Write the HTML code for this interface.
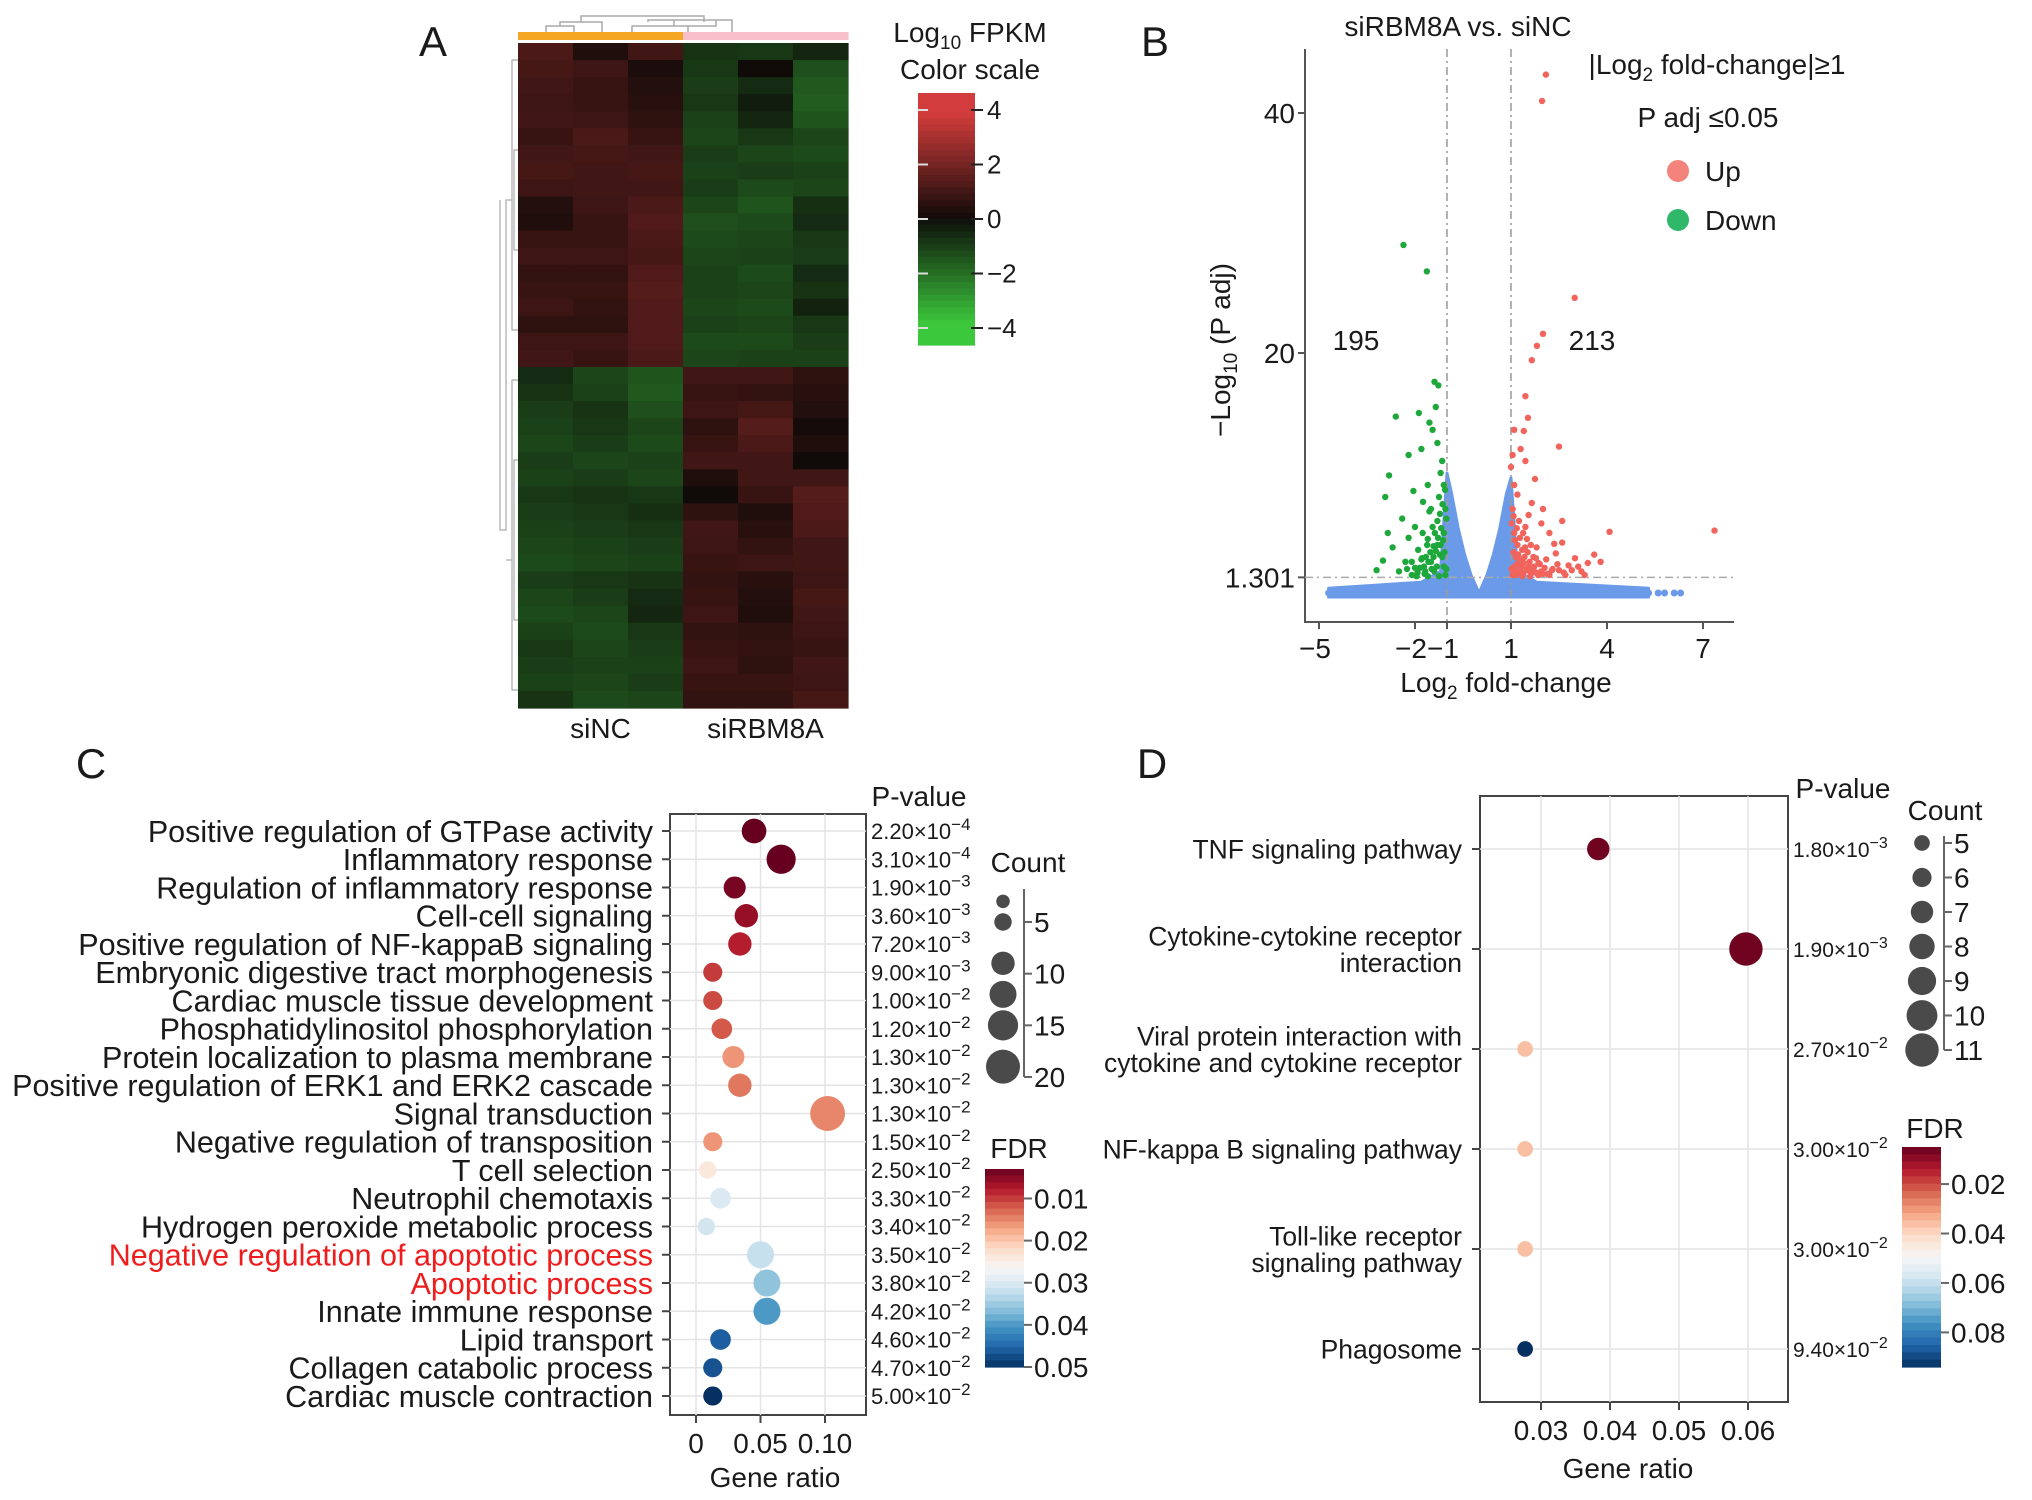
<!DOCTYPE html>
<html><head><meta charset="utf-8"><title>RBM8A figure</title>
<style>
html,body{margin:0;padding:0;background:#fff;}
svg{display:block;font-family:"Liberation Sans",Arial,sans-serif;}
</style></head>
<body>
<svg id="fig" width="2032" height="1500" viewBox="0 0 2032 1500" xmlns="http://www.w3.org/2000/svg">
<rect x="0" y="0" width="2032" height="1500" fill="#fff"/>
</svg>
<script>
// ---------- Panel A data ----------
const heatGroups = ["siNC","siNC","siNC","siRBM8A","siRBM8A","siRBM8A"];
const heatRows = [
[1.2,0.3,1.0,-0.8,-0.9,-0.5],[1.1,0.9,0.2,-0.9,0.0,-1.4],[1.0,0.8,0.4,-1.0,-0.6,-1.6],
[0.9,0.8,0.5,-0.9,-0.3,-1.7],[1.0,0.9,0.6,-1.1,-0.5,-1.5],[0.8,1.2,0.8,-1.2,-0.9,-1.2],
[1.0,1.1,1.0,-1.0,-1.2,-1.3],[1.1,1.0,1.1,-1.1,-1.0,-1.1],[0.9,1.0,1.0,-1.0,-1.3,-1.2],
[0.4,0.9,1.2,-1.2,-1.5,-0.7],[0.3,0.8,1.3,-1.4,-1.3,-0.6],[0.8,0.8,1.2,-1.3,-1.2,-0.9],
[0.9,0.9,1.1,-1.2,-1.1,-1.0],[0.7,0.7,1.3,-1.1,-1.3,-0.6],[0.8,0.8,1.4,-1.1,-1.2,-0.8],
[0.9,0.7,1.3,-1.2,-1.3,-0.4],[0.6,0.6,1.3,-1.1,-1.2,-0.9],[0.9,0.9,1.3,-1.3,-1.3,-1.0],
[1.0,0.8,1.2,-1.2,-1.1,-1.1],
[-0.6,-1.2,-1.5,1.0,1.0,0.6],[-0.8,-1.1,-1.6,0.8,0.7,0.5],[-1.0,-0.8,-1.4,0.9,1.1,0.4],
[-1.1,-0.9,-1.2,0.6,1.4,0.1],[-1.2,-1.0,-1.3,0.8,1.2,0.3],[-1.0,-1.2,-1.1,1.0,1.0,0.0],
[-1.1,-1.0,-1.2,0.3,1.0,1.0],[-0.9,-0.8,-0.9,0.0,0.8,1.4],[-1.0,-0.9,-0.7,0.6,0.3,1.3],
[-1.1,-1.0,-0.9,1.0,0.5,1.2],[-1.2,-1.1,-1.0,0.9,0.7,1.0],[-1.3,-1.2,-1.1,0.8,0.9,1.0],
[-1.0,-0.9,-0.8,0.7,0.5,0.9],[-1.2,-1.0,-0.6,0.8,0.4,1.1],[-1.3,-1.2,-0.5,0.9,0.3,1.0],
[-1.1,-1.3,-0.9,0.7,0.6,0.9],[-0.9,-1.2,-1.0,0.8,0.7,0.8],[-1.0,-1.1,-1.1,0.9,0.6,1.0],
[-1.1,-1.2,-1.0,0.8,0.8,0.9],[-0.8,-1.3,-1.2,0.7,0.7,1.1]
];
const heatTicks = [4,2,0,-2,-4];

// ---------- Panel B data ----------
const upX = [1.05,1.1,1.15,1.2,1.1,1.25,1.05,1.3,1.4,1.35,1.5,1.45,1.2,1.1,1.6,1.7,1.8,1.55,1.65,1.9,2.0,2.1,2.2,1.75,2.3,2.4,2.5,2.6,2.8,3.0,3.2,3.4,3.6,3.8,2.0,2.6,1.45,1.3,1.0,1.15,1.25,1.35,1.6,1.85,1.95,2.2,2.35,2.7,1.4,1.53,1.45,1.65,1.81,2.0,2.99,1.97,2.09,2.5,4.08,7.36,1.1,1.05,1.02,1.08,1.12,1.18,1.22,1.28,1.32,1.38,1.42,1.48,1.52,1.58,1.62,1.68,1.72,1.78,1.02,1.08,1.14,1.2,1.26,1.32,1.38,1.44,1.5,1.56,1.62,1.7,1.78,1.86,1.94,2.05,2.15,2.28,2.45,2.65,2.9,3.1,3.3];
const upY = [1.5,2.2,3,4,5,6,7,1.8,2.5,3.6,4.5,5.5,8.2,9,2,3,3.8,6.5,7.5,2.4,1.6,2.8,5,9.5,2,3.3,1.9,4.2,2.3,2.9,1.8,2.5,3.2,2.6,7,6,11,12,10.5,1.5,2.6,1.4,1.4,1.5,5.8,1.5,4.1,1.5,13.5,14.6,16.4,19.4,20.6,21.6,24.6,41,43.2,12.2,5.1,5.2,13.6,11.5,2.0,3.4,4.4,5.4,3.2,4.6,2.2,5.0,3.0,2.0,3.4,2.6,4.0,1.8,2.2,2.9,5.8,6.4,1.9,2.4,1.7,2.8,1.6,3.8,1.9,2.2,1.6,2.0,1.7,2.5,1.8,2.1,1.6,1.9,2.4,1.7,1.9,2.2,1.5];
const downX = [-1.05,-1.1,-1.15,-1.2,-1.1,-1.3,-1.05,-1.25,-1.1,-1.4,-1.5,-1.35,-1.6,-1.45,-1.2,-1.15,-1.7,-1.8,-1.9,-1.55,-1.75,-2.0,-2.1,-2.2,-1.6,-2.3,-2.5,-2.4,-1.3,-1.45,-1.88,-1.55,-2.6,-1.39,-1.27,-1.63,-2.36,-2.81,-2.93,-3.0,-2.85,-3.2,-2.7,-2.0,-1.25,-1.6,-1.95,-2.2,-1.8,-2.05,-1.35,-1.02,-1.08,-1.12,-1.18,-1.22,-1.28,-1.32,-1.38,-1.42,-1.48,-1.52,-1.58,-1.62,-1.68,-1.72,-1.78,-1.85,-1.92,-2.1,-2.25,-1.02,-1.06,-1.14,-1.22,-1.3,-1.42,-1.5,-1.66,-1.76];
const downY = [1.5,2.2,3,4,5,6,7,8,9,1.8,2.6,3.5,4.5,5.5,10,11,1.6,2.8,3.6,6.8,7.6,2.1,1.5,4.6,9,2.6,1.8,6.2,12.5,13.6,15,14.2,14.7,17.6,17.3,26.8,29,9.8,8,2.7,5,1.9,3.8,5.5,1.4,1.4,1.4,11.5,12,8.5,15.5,2.0,3.4,4.4,5.4,3.2,4.6,2.2,5.0,3.0,2.0,3.4,2.6,4.0,1.8,2.2,2.9,2.1,1.7,2.6,2.0,6.2,8.6,7.4,6.6,4.0,3.9,7.0,3.0,5.0];
const nsEnvX = [-4.7,-1.8,-1.2,-1.0,-0.85,-0.65,-0.45,-0.25,-0.1,0,0.1,0.25,0.45,0.65,0.85,1.0,1.2,1.8,5.3];
const nsEnvY = [0.4,0.9,1.8,10.0,8.2,5.4,3.2,1.5,0.6,0,0.6,1.5,3.2,5.4,8.2,9.6,1.8,0.9,0.4];
const nsTailX = [5.6,5.8,6.1,6.3];
const volXTicks = [-5,-2,-1,1,4,7];
const volYTicks = [40,20,1.301];

// ---------- Panel C data ----------
const goTerms = ["Positive regulation of GTPase activity","Inflammatory response","Regulation of inflammatory response","Cell-cell signaling","Positive regulation of NF-kappaB signaling","Embryonic digestive tract morphogenesis","Cardiac muscle tissue development","Phosphatidylinositol phosphorylation","Protein localization to plasma membrane","Positive regulation of ERK1 and ERK2 cascade","Signal transduction","Negative regulation of transposition","T cell selection","Neutrophil chemotaxis","Hydrogen peroxide metabolic process","Negative regulation of apoptotic process","Apoptotic process","Innate immune response","Lipid transport","Collagen catabolic process","Cardiac muscle contraction"];
const goRatio = [0.045,0.066,0.03,0.039,0.034,0.013,0.013,0.02,0.029,0.034,0.102,0.013,0.009,0.019,0.008,0.05,0.055,0.055,0.019,0.013,0.013];
const goCount = [10,14,8,9,9,6,6,7,8,9,20,6,5,7,5,12,12,12,7,6,6];
const goFDR = [0.003,0.003,0.004,0.006,0.008,0.010,0.011,0.012,0.016,0.014,0.015,0.016,0.024,0.030,0.031,0.032,0.036,0.040,0.046,0.047,0.050];
const goPmant = ["2.20","3.10","1.90","3.60","7.20","9.00","1.00","1.20","1.30","1.30","1.30","1.50","2.50","3.30","3.40","3.50","3.80","4.20","4.60","4.70","5.00"];
const goPexp = ["−4","−4","−3","−3","−3","−3","−2","−2","−2","−2","−2","−2","−2","−2","−2","−2","−2","−2","−2","−2","−2"];
const goHighlight = [15,16];
const goXTicks = [0,0.05,0.10];
const goXLabels = ["0","0.05","0.10"];
const goCountTicks = [5,10,15,20];
const goFDRTicks = [0.01,0.02,0.03,0.04,0.05];

// ---------- Panel D data ----------
const kgTerms = [["TNF signaling pathway"],["Cytokine-cytokine receptor","interaction"],["Viral protein interaction with","cytokine and cytokine receptor"],["NF-kappa B signaling pathway"],["Toll-like receptor","signaling pathway"],["Phagosome"]];
const kgRatio = [0.0383,0.0597,0.0277,0.0277,0.0277,0.0277];
const kgCount = [7,11,5,5,5,5];
const kgFDR = [0.006,0.006,0.036,0.036,0.036,0.094];
const kgPmant = ["1.80","1.90","2.70","3.00","3.00","9.40"];
const kgPexp = ["−3","−3","−2","−2","−2","−2"];
const kgXTicks = [0.03,0.04,0.05,0.06];
const kgCountTicks = [5,6,7,8,9,10,11];
const kgFDRTicks = [0.02,0.04,0.06,0.08];

// ---------- helpers ----------
const NS = "http://www.w3.org/2000/svg";
const svg = document.getElementById("fig");
function mk(tag, attrs, parent) {
  const el = document.createElementNS(NS, tag);
  for (const k in attrs) el.setAttribute(k, attrs[k]);
  (parent || svg).appendChild(el);
  return el;
}
function txt(str, x, y, size, anchor, parent, extra) {
  const t = mk("text", Object.assign({x: x, y: y, "font-size": size, "text-anchor": anchor || "start", fill: "#1a1a1a"}, extra || {}), parent);
  t.textContent = str;
  return t;
}
function lerp(a, b, t) { return a + (b - a) * t; }
function hex(c) { return [parseInt(c.slice(1,3),16), parseInt(c.slice(3,5),16), parseInt(c.slice(5,7),16)]; }
const RDBU = ["#67001f","#b2182b","#d6604d","#f4a582","#fddbc7","#f7f7f7","#d1e5f0","#92c5de","#4393c3","#2166ac","#053061"];
function rdbu(t) {
  t = Math.max(0, Math.min(1, t));
  const p = t * (RDBU.length - 1), i = Math.min(RDBU.length - 2, Math.floor(p)), f = p - i;
  const a = hex(RDBU[i]), b = hex(RDBU[i+1]);
  return "rgb(" + [0,1,2].map(k => Math.round(lerp(a[k], b[k], f))).join(",") + ")";
}
function heatColor(v) {
  const t = Math.min(1, Math.abs(v) / 4);
  if (v >= 0) return "rgb(" + Math.round(lerp(16, 210, t)) + "," + Math.round(lerp(10, 60, t)) + "," + Math.round(lerp(8, 60, t)) + ")";
  return "rgb(" + Math.round(lerp(14, 60, t)) + "," + Math.round(lerp(14, 200, t)) + "," + Math.round(lerp(10, 60, t)) + ")";
}
function panelLetter(s, x, y) {
  const t = txt(s, x, y, 42, "middle");
  
  
}

// ================= Panel A =================
(function () {
  panelLetter("A", 433, 56);
  const g = mk("g", {});
  
  
  const x0 = 518, x1 = 848, y0 = 43, y1 = 708;
  const cw = (x1 - x0) / heatGroups.length, rh = (y1 - y0) / heatRows.length;
  heatRows.forEach((row, r) => row.forEach((v, c) => {
    const cell = mk("rect", {x: x0 + c * cw, y: y0 + r * rh, width: cw + 0.6, height: rh + 0.6, fill: heatColor(v)}, g);
    
    
  }));
  heatGroups.forEach((gr, c) => {
    const b = mk("rect", {x: x0 + c * cw, y: 32, width: cw + 0.6, height: 8, fill: gr === "siNC" ? "#f5a623" : "#f7c0cb"}, g);
    
    
  });
  const dt = mk("path", {d: "M546 32V26H574V32M560 26V22H602V32M581 22V16H704V22M648 22V20H732V32M674 20V26H688V32M632 32V26H716V20", fill: "none", stroke: "#aaa", "stroke-width": 1.5}, g);
  
  
  const dl = mk("path", {d: "M518 60H512V330H518M512 200H506V530H500V200M518 380H512V690H518M512 560H506M518 150H514V250H518M518 460H514V620H518", fill: "none", stroke: "#aaa", "stroke-width": 1.2}, g);
  
  
  const l1 = txt("siNC", x0 + cw * 1.5, 738, 28, "middle", g);
  
  
  const l2 = txt("siRBM8A", x0 + cw * 4.5, 738, 28, "middle", g);
  
  
  const t1 = txt("", 970, 42, 28, "middle", g);
  t1.innerHTML = 'Log<tspan font-size="19" dy="7">10</tspan><tspan dy="-7"> FPKM</tspan>';
  
  
  const t2 = txt("Color scale", 970, 79, 28, "middle", g);
  
  
  const cb0 = 93, cb1 = 345, cx0 = 918, cx1 = 975;
  const vy = v => lerp(cb0 + 17, cb1 - 17, (4 - v) / 8);
  const steps = 40;
  for (let i = 0; i < steps; i++) {
    const v = 4.8 - 9.6 * (i + 0.5) / steps;
    const s = mk("rect", {x: cx0, y: cb0 + i * (cb1 - cb0) / steps, width: cx1 - cx0, height: (cb1 - cb0) / steps + 0.6, fill: heatColor(v)}, g);
    
    
  }
  heatTicks.forEach(v => {
    const tk = mk("line", {x1: cx1 - 4, x2: cx1 + 8, y1: vy(v), y2: vy(v), stroke: "#222", "stroke-width": 2}, g);
    
    
    const w = mk("line", {x1: cx0, x2: cx0 + 10, y1: vy(v), y2: vy(v), stroke: "#ddd", "stroke-width": 2}, g);
    
    
    const lb = txt(v < 0 ? "−" + (-v) : String(v), cx1 + 12, vy(v) + 9, 26, "start", g);
    
    
  });
})();

// ================= Panel B =================
(function () {
  panelLetter("B", 1155, 56);
  const g = mk("g", {});
  
  
  const X = v => 1511 + (v - 1) * 32;
  const Y = v => 113 + (40 - v) * 12;
  const left = 1305, bottom = 622, right = 1734, top = 49;
  const ax = mk("path", {d: `M${left} ${top}V${bottom}H${right}`, fill: "none", stroke: "#555", "stroke-width": 2}, g);
  
  
  let d = "M" + X(nsEnvX[0]) + " " + (Y(0) + 4);
  nsEnvX.forEach((x, i) => { d += " L" + X(x) + " " + Y(nsEnvY[i]); });
  d += " L" + X(nsEnvX[nsEnvX.length - 1]) + " " + (Y(0) + 4) + "Z";
  const ns = mk("path", {d: d, fill: "#6a9ae8", stroke: "#6a9ae8", "stroke-width": 3, "stroke-linejoin": "round"}, g);
  
  
  const base = mk("line", {x1: X(-4.7), x2: X(5.3), y1: Y(0), y2: Y(0), stroke: "#6a9ae8", "stroke-width": 7, "stroke-linecap": "round"}, g);
  
  
  nsTailX.forEach(x => {
    const c = mk("circle", {cx: X(x), cy: Y(0), r: 3.5, fill: "#6a9ae8"}, g);
    
    
  });
  [-1, 1].forEach(v => {
    const l = mk("line", {x1: X(v), x2: X(v), y1: top, y2: bottom, stroke: "#999", "stroke-width": 1.5, "stroke-dasharray": "8 4 2 4"}, g);
    
    
  });
  const hl = mk("line", {x1: left, x2: right, y1: Y(1.301), y2: Y(1.301), stroke: "#aaa", "stroke-width": 1.5, "stroke-dasharray": "8 4 2 4"}, g);
  
  
  downX.forEach((x, i) => {
    const c = mk("circle", {cx: X(x), cy: Y(downY[i]), r: 3.2, fill: "#1ea83c"}, g);
    
    
  });
  upX.forEach((x, i) => {
    const c = mk("circle", {cx: X(x), cy: Y(upY[i]), r: 3.2, fill: "#f0645c"}, g);
    
    
  });
  volXTicks.forEach(v => {
    const tk = mk("line", {x1: X(v), x2: X(v), y1: bottom, y2: bottom + 7, stroke: "#555", "stroke-width": 2}, g);
    
    
    const lb = txt(v < 0 ? "−" + (-v) : String(v), X(v) + (v < 0 ? -4 : 0), bottom + 36, 28, "middle", g);
    
    
  });
  volYTicks.forEach(v => {
    const tk = mk("line", {x1: left - 7, x2: left, y1: Y(v), y2: Y(v), stroke: "#555", "stroke-width": 2}, g);
    
    
    const lb = txt(String(v), left - 10, Y(v) + 10, 28, "end", g);
    
    
  });
  const xt = txt("", 1506, 692, 28, "middle", g);
  xt.innerHTML = 'Log<tspan font-size="19" dy="7">2</tspan><tspan dy="-7"> fold-change</tspan>';
  
  
  const yt = txt("", 0, 0, 28, "middle", g, {transform: "translate(1230 350) rotate(-90)"});
  yt.innerHTML = '−Log<tspan font-size="19" dy="7">10</tspan><tspan dy="-7"> (P adj)</tspan>';
  
  
  const tt = txt("siRBM8A vs. siNC", 1458, 36, 28, "middle", g);
  
  
  const n1 = txt("195", 1356, 350, 28, "middle", g);
  
  
  const n2 = txt("213", 1592, 350, 28, "middle", g);
  
  
  const lg1 = txt("", 1717, 74, 28, "middle", g);
  lg1.innerHTML = '|Log<tspan font-size="19" dy="7">2</tspan><tspan dy="-7"> fold-change|≥1</tspan>';
  
  
  const lg2 = txt("P adj ≤0.05", 1708, 127, 28, "middle", g);
  
  
  const c1 = mk("circle", {cx: 1678, cy: 171, r: 11, fill: "#f4837c"}, g);
  
  
  const u = txt("Up", 1705, 181, 28, "start", g);
  
  
  const c2 = mk("circle", {cx: 1678, cy: 220, r: 11, fill: "#2fb86a"}, g);
  
  
  const dn = txt("Down", 1705, 230, 28, "start", g);
  
  
})();

// ================= dot plot builder =================
function dotPlot(o) {
  const g = mk("g", {});
  
  
  const X = v => o.xa + (v - o.xmin) * o.xs;
  const n = o.terms.length;
  const Y = i => o.r0 + i * (o.r1 - o.r0) / (n - 1);
  const bg = mk("rect", {x: o.L, y: o.T, width: o.R - o.L, height: o.B - o.T, fill: "#fff", stroke: "#444", "stroke-width": 2}, g);
  
  
  o.xticks.forEach(v => {
    const gl = mk("line", {x1: X(v), x2: X(v), y1: o.T, y2: o.B, stroke: "#e4e4e4", "stroke-width": 1.5}, g);
    
    
  });
  o.terms.forEach((t, i) => {
    const gl = mk("line", {x1: o.L, x2: o.R, y1: Y(i), y2: Y(i), stroke: "#e4e4e4", "stroke-width": 1.5}, g);
    
    
  });
  const fdrT = v => (v - o.fmin) / (o.fmax - o.fmin);
  const rad = c => o.rk * Math.sqrt(c) + o.rb;
  o.terms.forEach((t, i) => {
    const c = mk("circle", {cx: X(o.ratio[i]), cy: Y(i), r: rad(o.count[i]), fill: rdbu(fdrT(o.fdr[i]))}, g);
    
    
    const tk = mk("line", {x1: o.L - 8, x2: o.L, y1: Y(i), y2: Y(i), stroke: "#444", "stroke-width": 2}, g);
    
    
    const lines = Array.isArray(t) ? t : [t];
    lines.forEach((ln, k) => {
      const dy = (k - (lines.length - 1) / 2) * o.fs * 1.0 + o.fs * 0.36;
      const lb = txt(ln, o.L - o.lgap, Y(i) + dy, o.fs, "end", g, {fill: (o.hl || []).indexOf(i) >= 0 ? "#ee1c1c" : "#1a1a1a"});
      
      
    });
    const pv = txt("", o.R + 5, Y(i) + 8, o.pfs, "start", g);
    pv.innerHTML = o.pm[i] + '×10<tspan font-size="' + Math.round(o.pfs * 0.75) + '" dy="-9">' + o.pe[i] + '</tspan>';
    
    
  });
  o.xticks.forEach((v, k) => {
    const tk = mk("line", {x1: X(v), x2: X(v), y1: o.B, y2: o.B + 8, stroke: "#444", "stroke-width": 2}, g);
    
    
    const lb = txt(o.xlabels[k], X(v), o.B + 38, 28, "middle", g);
    
    
  });
  const xt = txt("Gene ratio", o.xtitleX, o.xtitleY, 28, "middle", g);
  
  
  const pt = txt("P-value", o.ptX, o.ptY, 28, "middle", g);
  
  
  const ct = txt("Count", o.cTitle[0], o.cTitle[1], 28, "middle", g);
  
  
  const cy = v => o.cy0 + (v - o.cticks[0]) * (o.cy1 - o.cy0) / (o.cticks[o.cticks.length - 1] - o.cticks[0]);
  const al = mk("line", {x1: o.cax, x2: o.cax, y1: o.cyTop, y2: cy(o.cticks[o.cticks.length - 1]), stroke: "#666", "stroke-width": 2}, g);
  
  
  o.cdots.forEach(v => {
    const c = mk("circle", {cx: o.ccx, cy: cy(v), r: rad(v), fill: "#4a4a4a"}, g);
    
    
  });
  o.cticks.forEach(v => {
    const tk = mk("line", {x1: o.cax, x2: o.cax + 8, y1: cy(v), y2: cy(v), stroke: "#666", "stroke-width": 2}, g);
    
    
    const lb = txt(String(v), o.cax + 10, cy(v) + 10, 28, "start", g);
    
    
  });
  const ft = txt("FDR", o.fTitle[0], o.fTitle[1], 28, "middle", g);
  
  
  const steps = 30;
  for (let i = 0; i < steps; i++) {
    const s = mk("rect", {x: o.fx0, y: o.fy0 + i * (o.fy1 - o.fy0) / steps, width: o.fx1 - o.fx0, height: (o.fy1 - o.fy0) / steps + 0.6, fill: rdbu((i + 0.5) / steps)}, g);
    
    
  }
  const fy = v => o.fy0 + fdrT(v) * (o.fy1 - o.fy0);
  o.fticks.forEach(v => {
    const tk = mk("line", {x1: o.fx1, x2: o.fx1 + 8, y1: fy(v), y2: fy(v), stroke: "#666", "stroke-width": 2}, g);
    
    
    const lb = txt(v.toFixed(2), o.fx1 + 10, fy(v) + 10, 28, "start", g);
    
    
  });
}

panelLetter("C", 91, 778);
dotPlot({name: "go-dotplot-panel", terms: goTerms, ratio: goRatio, count: goCount, fdr: goFDR, pm: goPmant, pe: goPexp, hl: goHighlight,
  L: 670, R: 866, T: 814, B: 1415, r0: 831, r1: 1396, xa: 696, xmin: 0, xs: 1290,
  xticks: goXTicks, xlabels: goXLabels, fs: 30.5, lgap: 17, pfs: 22, rk: 3.9, rb: 0,
  fmin: 0.003, fmax: 0.05, xtitleX: 775, xtitleY: 1487, ptX: 919, ptY: 806,
  cTitle: [1028, 872], cax: 1024, ccx: 1003, cyTop: 889, cy0: 922, cy1: 1077, cticks: goCountTicks, cdots: [3, 5, 9, 12, 15, 19],
  fTitle: [1019, 1158], fx0: 985, fx1: 1024, fy0: 1169, fy1: 1367, fticks: goFDRTicks});

panelLetter("D", 1152, 778);
dotPlot({name: "kegg-dotplot-panel", terms: kgTerms, ratio: kgRatio, count: kgCount, fdr: kgFDR, pm: kgPmant, pe: kgPexp,
  L: 1480, R: 1788, T: 796, B: 1402, r0: 849, r1: 1349, xa: 1541, xmin: 0.03, xs: 6900,
  xticks: kgXTicks, xlabels: ["0.03","0.04","0.05","0.06"], fs: 26.5, lgap: 18, pfs: 21, rk: 8.2, rb: -10.5,
  fmin: 0.005, fmax: 0.094, xtitleX: 1628, xtitleY: 1478, ptX: 1843, ptY: 798,
  cTitle: [1945, 820], cax: 1944, ccx: 1922, cyTop: 836, cy0: 843, cy1: 1050, cticks: kgCountTicks, cdots: kgCountTicks,
  fTitle: [1935, 1138], fx0: 1902, fx1: 1941, fy0: 1147, fy1: 1367, fticks: kgFDRTicks});
</script>
</body></html>
